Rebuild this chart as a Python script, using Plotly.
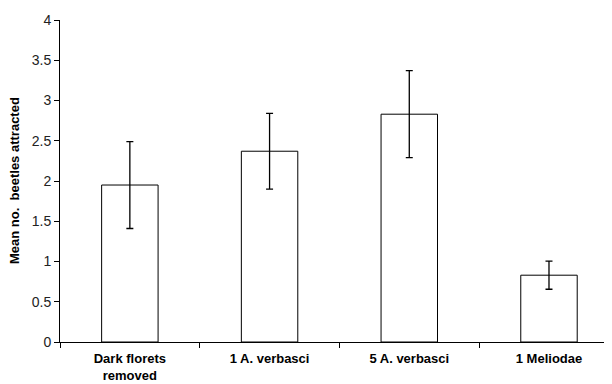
import plotly.graph_objects as go

categories = ["Dark florets<br>removed", "1 A. verbasci", "5 A. verbasci", "1 Meliodae"]
means = [1.95, 2.37, 2.83, 0.83]
errors = [0.54, 0.47, 0.54, 0.175]
y_ticks = [0, 0.5, 1, 1.5, 2, 2.5, 3, 3.5, 4]
y_title = "Mean no.\u00a0\u00a0beetles attracted"

fig = go.Figure()
fig.add_trace(go.Bar(
    x=categories, y=means,
    width=0.404,
    marker=dict(color="white", line=dict(color="black", width=1)),
    error_y=dict(type="data", array=errors, visible=True, color="black", thickness=1.3, width=3.5),
))

fig.update_layout(
    width=604, height=376,
    margin=dict(l=52, r=0, t=12, b=42),
    paper_bgcolor="white", plot_bgcolor="white",
    showlegend=False,
    font=dict(family="Liberation Sans, Arial, sans-serif", color="black"),
    xaxis=dict(
        type="category", range=[-0.5, 3.451], automargin=False,
        showline=True, linecolor="black", linewidth=1,
        ticks="outside", tickson="boundaries", ticklen=5, tickcolor="black", tickwidth=1,
        ticklabelstandoff=4,
        showgrid=False, zeroline=False,
        tickfont=dict(size=13, family="Liberation Sans, Arial, sans-serif", color="black"),
    ),
    yaxis=dict(
        range=[0, 4], tickvals=y_ticks, automargin=False,
        showline=True, linecolor="black", linewidth=1,
        ticks="outside", ticklen=5, tickcolor="black", tickwidth=1,
        showgrid=False, zeroline=False,
        tickfont=dict(size=14, color="#222"),
    ),
    annotations=[dict(
        text="<b>" + y_title + "</b>", textangle=-90,
        xref="paper", yref="paper", x=-0.0833, y=0.5,
        xanchor="center", yanchor="middle", showarrow=False,
        font=dict(size=13, color="black"),
    )],
)
fig.update_xaxes(tickprefix="<b>", ticksuffix="</b>")
fig.write_html("out.html")
